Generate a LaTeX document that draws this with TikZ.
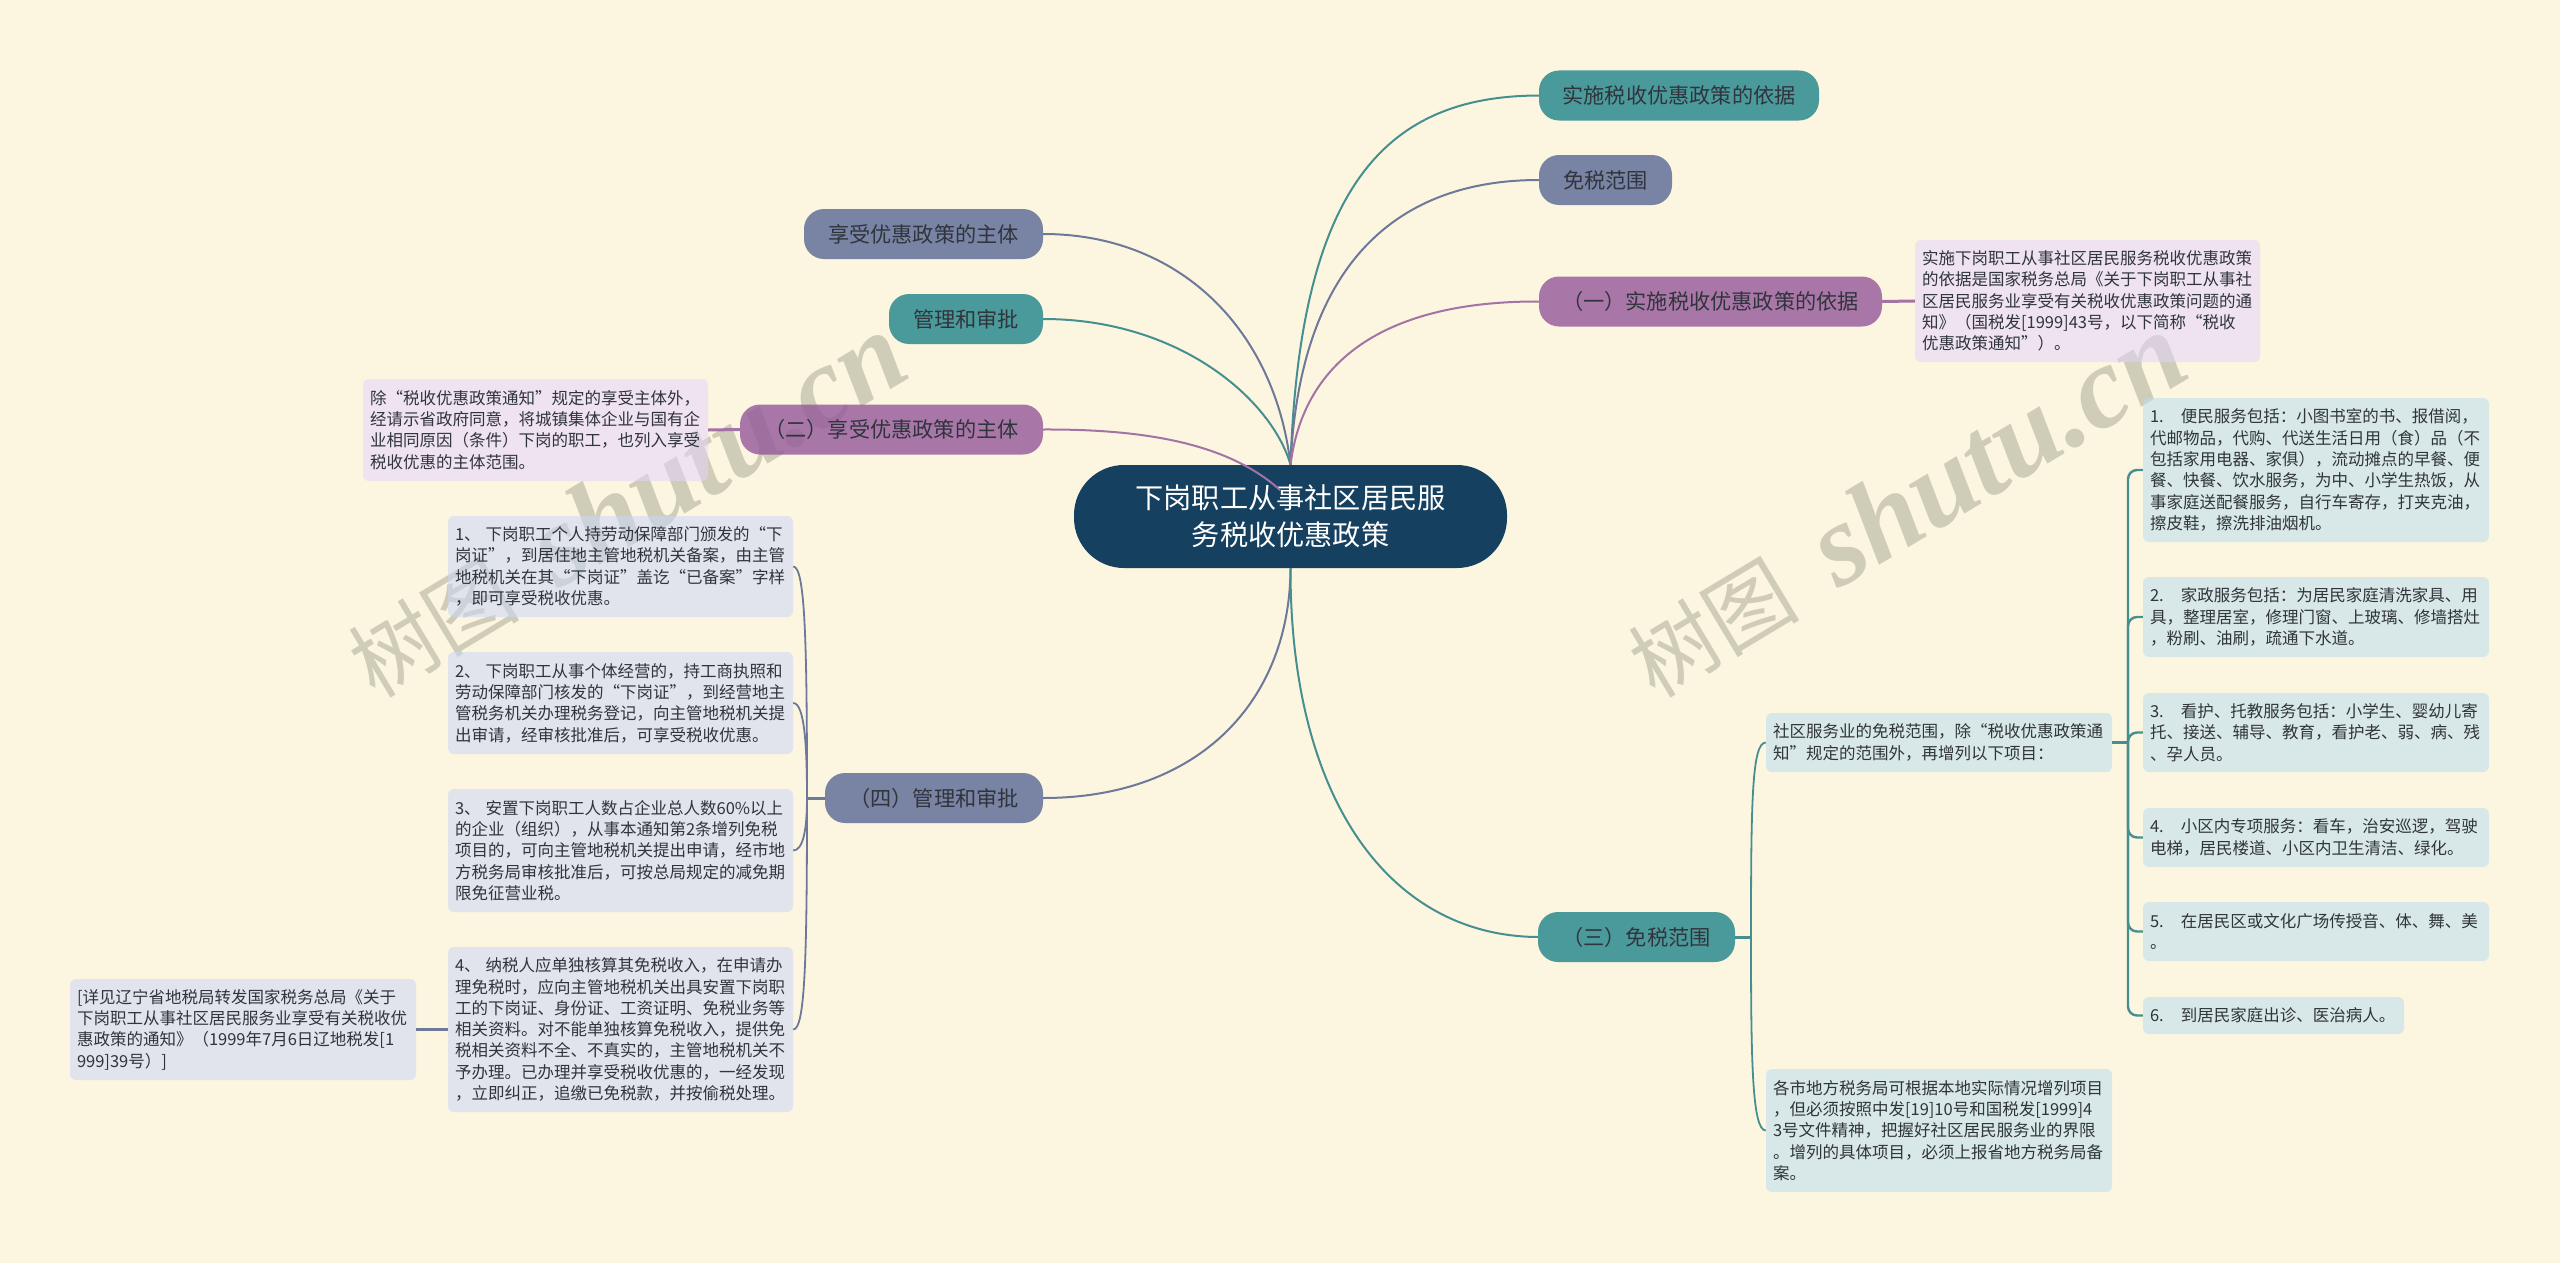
\documentclass[tikz,border=0pt]{standalone}
\usepackage{fontspec}
\setmainfont{Noto Sans CJK SC}
\newfontfamily\wmlatin{Liberation Serif}
\definecolor{bgc}{HTML}{FCF6E0}
\definecolor{wmc}{HTML}{CFCCB8}
\definecolor{ctr}{HTML}{16405F}
\definecolor{slatef}{RGB}{89,103,149}
\definecolor{tealf}{RGB}{31,131,138}
\definecolor{purplef}{RGB}{147,88,154}
\definecolor{slaten}{RGB}{203,215,246}
\definecolor{tealn}{RGB}{188,221,242}
\definecolor{purplen}{RGB}{227,213,251}
\definecolor{slatel}{HTML}{6E7899}
\definecolor{teall}{HTML}{468F90}
\definecolor{purplel}{HTML}{A273A4}
\definecolor{txt}{HTML}{30343C}
\newcommand\notefont{\fontsize{16.5pt}{21.3pt}\selectfont}
\newcommand\mainfont{\fontsize{21.2pt}{26pt}\selectfont}
\newcommand\ctrfont{\fontsize{28.2pt}{37pt}\selectfont}
\tikzset{
  notebase/.style={rectangle,rounded corners=6pt,fill opacity=.55,text opacity=1,
    inner xsep=7pt,inner ysep=0pt,font=\notefont,align=left,text=txt},
  snote/.style={notebase,fill=slaten},
  tnote/.style={notebase,fill=tealn},
  pnote/.style={notebase,fill=purplen},
  mainbase/.style={rectangle,rounded corners=20pt,fill opacity=.8,text opacity=1,
    inner sep=0pt,minimum height=50pt,font=\mainfont,align=center,text=txt},
  smain/.style={mainbase,fill=slatef},
  tmain/.style={mainbase,fill=tealf},
  pmain/.style={mainbase,fill=purplef},
  centre/.style={rectangle,rounded corners=50pt,fill=ctr,text=white,inner sep=0pt,
    minimum width=433pt,minimum height=103pt,font=\ctrfont,align=center},
  wm/.style={text=wmc,inner sep=0pt,rotate=31,anchor=base west,font=\fontsize{86pt}{90pt}\selectfont},
  curve/.style={line width=2pt},
  link/.style={line width=3pt},
  brace/.style={line width=2.4pt,rounded corners=9pt},
  limb/.style={line width=1.8pt}
}
\newcommand\wmtext{树图\hspace{42pt}{\wmlatin\bfseries\itshape\fontsize{116pt}{120pt}\selectfont shutu.cn}}
\begin{document}
\begin{tikzpicture}[x=1pt,y=-1pt]
\useasboundingbox (0,0) rectangle (2560,1263);
\fill[bgc] (0,0) rectangle (2560,1263);
% watermarks
\node[wm] (wmA) at (375,700) {\wmtext};
\node[wm] (wmB) at (1655,700) {\wmtext};
% nodes
\node[centre] (c) at (1290.5,516.5) {下岗职工从事社区居民服\\务税收优惠政策};
\coordinate (hub) at (1280,490);
\coordinate (trL) at (807,798);
\coordinate (trM) at (1751,937);
\coordinate (trR) at (2128,742.5);

\node[smain,minimum width=239pt] (t1) at (923.5,234) {享受优惠政策的主体};
\node[tmain,minimum width=154pt] (t2) at (966,319) {管理和审批};
\node[pmain,minimum width=303pt] (t3) at (891.5,429.5) {（二）享受优惠政策的主体};
\node[smain,minimum width=218pt] (t4) at (934,798) {（四）管理和审批};
\node[tmain,minimum width=280pt] (r1) at (1679,95.5) {实施税收优惠政策的依据};
\node[smain,minimum width=133pt] (r2) at (1605.5,180) {免税范围};
\node[pmain,minimum width=343pt] (r3) at (1710.5,301.5) {（一）实施税收优惠政策的依据};
\node[tmain,minimum width=197pt] (r4) at (1636.5,937) {（三）免税范围};

\node[pnote,text width=331pt,minimum height=102pt] (a0) at (535.5,430) {除“税收优惠政策通知”规定的享受主体外，\\经请示省政府同意，将城镇集体企业与国有企\\业相同原因（条件）下岗的职工，也列入享受\\税收优惠的主体范围。};
\node[snote,text width=331pt,minimum height=101pt] (n1) at (620.5,566.5) {1、\hspace{5pt}下岗职工个人持劳动保障部门颁发的“下\\岗证”，到居住地主管地税机关备案，由主管\\地税机关在其“下岗证”盖讫“已备案”字样\\，即可享受税收优惠。};
\node[snote,text width=331pt,minimum height=102pt] (n2) at (620.5,703) {2、\hspace{5pt}下岗职工从事个体经营的，持工商执照和\\劳动保障部门核发的“下岗证”，到经营地主\\管税务机关办理税务登记，向主管地税机关提\\出审请，经审核批准后，可享受税收优惠。};
\node[snote,text width=331pt,minimum height=123pt] (n3) at (620.5,850.5) {3、\hspace{5pt}安置下岗职工人数占企业总人数60\%以上\\的企业（组织），从事本通知第2条增列免税\\项目的，可向主管地税机关提出申请，经市地\\方税务局审核批准后，可按总局规定的减免期\\限免征营业税。};
\node[snote,text width=331pt,minimum height=165pt] (n4) at (620.5,1029.5) {4、\hspace{5pt}纳税人应单独核算其免税收入，在申请办\\理免税时，应向主管地税机关出具安置下岗职\\工的下岗证、身份证、工资证明、免税业务等\\相关资料。对不能单独核算免税收入，提供免\\税相关资料不全、不真实的，主管地税机关不\\予办理。已办理并享受税收优惠的，一经发现\\，立即纠正，追缴已免税款，并按偷税处理。};
\node[snote,text width=332pt,minimum height=101pt] (xj) at (243,1029.5) {{[}详见辽宁省地税局转发国家税务总局《关于\\下岗职工从事社区居民服务业享受有关税收优\\惠政策的通知》（1999年7月6日辽地税发[1\\999]39号）]};
\node[pnote,text width=331pt,minimum height=122pt] (b0) at (2087.5,301) {实施下岗职工从事社区居民服务税收优惠政策\\的依据是国家税务总局《关于下岗职工从事社\\区居民服务业享受有关税收优惠政策问题的通\\知》（国税发[1999]43号，以下简称“税收\\优惠政策通知”）。};
\node[tnote,text width=332pt,minimum height=59pt] (sq) at (1939,742.5) {社区服务业的免税范围，除“税收优惠政策通\\知”规定的范围外，再增列以下项目：};
\node[tnote,text width=332pt,minimum height=123pt] (gs) at (1939,1130.5) {各市地方税务局可根据本地实际情况增列项目\\，但必须按照中发[19]10号和国税发[1999]4\\3号文件精神，把握好社区居民服务业的界限\\。增列的具体项目，必须上报省地方税务局备\\案。};
\node[tnote,text width=332pt,minimum height=144pt] (k1) at (2316,470) {1.\hspace{17pt}便民服务包括：小图书室的书、报借阅，\\代邮物品，代购、代送生活日用（食）品（不\\包括家用电器、家俱），流动摊点的早餐、便\\餐、快餐、饮水服务，为中、小学生热饭，从\\事家庭送配餐服务，自行车寄存，打夹克油，\\擦皮鞋，擦洗排油烟机。};
\node[tnote,text width=332pt,minimum height=80pt] (k2) at (2316,617) {2.\hspace{17pt}家政服务包括：为居民家庭清洗家具、用\\具，整理居室，修理门窗、上玻璃、修墙搭灶\\，粉刷、油刷，疏通下水道。};
\node[tnote,text width=332pt,minimum height=79pt] (k3) at (2316,732.5) {3.\hspace{17pt}看护、托教服务包括：小学生、婴幼儿寄\\托、接送、辅导、教育，看护老、弱、病、残\\、孕人员。};
\node[tnote,text width=332pt,minimum height=59pt] (k4) at (2316,837.5) {4.\hspace{17pt}小区内专项服务：看车，治安巡逻，驾驶\\电梯，居民楼道、小区内卫生清洁、绿化。};
\node[tnote,text width=332pt,minimum height=59pt] (k5) at (2316,931.5) {5.\hspace{17pt}在居民区或文化广场传授音、体、舞、美\\。};
\node[tnote,text width=247pt,minimum height=37pt] (k6) at (2273.5,1015.5) {6.\hspace{17pt}到居民家庭出诊、医治病人。};

% connectors from the centre
\draw[curve,slatel] (t1.east) .. controls (1180,234) and (1275,330) .. (c.north);
\draw[curve,teall] (t2.east) .. controls (1180,319) and (1272,400) .. (c.north);
\draw[curve,purplel] (t3.east) .. controls (1150,429) and (1230,445) .. (hub);
\draw[curve,slatel] (t4.east) .. controls (1200,798) and (1290,700) .. (c.south);
\draw[curve,teall] (r1.west) .. controls (1390,96) and (1300,180) .. (c.north);
\draw[curve,slatel] (r2.west) .. controls (1400,180) and (1300,260) .. (c.north);
\draw[curve,purplel] (r3.west) .. controls (1400,301) and (1305,350) .. (c.north);
\draw[curve,teall] (r4.west) .. controls (1390,936) and (1290,800) .. (c.south);
% secondary links
\draw[link,purplel] (t3.west) -- (a0.east);
\draw[link,purplel] (r3.east) -- (b0.west);
\draw[link,slatel] (n4.west) -- (xj.east);
% left bracket
\draw[link,slatel] (t4.west) -- (trL);
\draw[limb,slatel] (trL) .. controls (807,640) and (805,566.5) .. (n1.east);
\draw[limb,slatel] (trL) .. controls (807,750) and (805,703) .. (n2.east);
\draw[limb,slatel] (trL) .. controls (807,830) and (803,850.5) .. (n3.east);
\draw[limb,slatel] (trL) .. controls (807,960) and (805,1029.5) .. (n4.east);
% middle bracket
\draw[link,teall] (r4.east) -- (trM);
\draw[limb,teall] (trM) .. controls (1751,800) and (1752,742.5) .. (sq.west);
\draw[limb,teall] (trM) .. controls (1751,1060) and (1752,1130.5) .. (gs.west);
% right bracket
\draw[link,teall] (sq.east) -- (trR);
\draw[brace,teall] (trR) |- (k1.west);
\draw[brace,teall] (trR) |- (k2.west);
\draw[brace,teall] (trR) |- (k3.west);
\draw[brace,teall] (trR) |- (k4.west);
\draw[brace,teall] (trR) |- (k5.west);
\draw[brace,teall] (trR) |- (k6.west);
\end{tikzpicture}
\end{document}
